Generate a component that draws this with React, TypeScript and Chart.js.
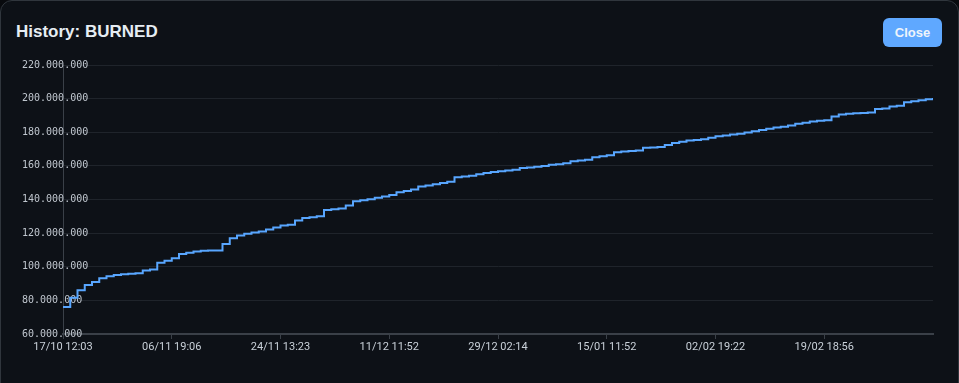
import React, { useEffect, useRef } from "react";
import { Chart, registerables } from "chart.js";

Chart.register(...registerables);

// Burned totals (millions) at equally spaced burn events
const burnedMillions: number[] = [
  76.0, 81.5, 86.0, 89.2, 91.0, 93.2, 94.3, 95.1, 95.5, 95.8,
  96.1, 97.8, 98.3, 102.4, 103.6, 105.0, 107.6, 108.3, 109.1, 109.5,
  109.6, 109.6, 113.5, 117.0, 118.6, 119.6, 120.3, 121.0, 122.1, 123.3,
  124.5, 125.0, 127.5, 129.0, 129.5, 130.0, 133.8, 134.2, 134.6, 136.5,
  138.9, 139.5, 140.1, 141.0, 141.8, 142.7, 144.3, 145.0, 145.9, 147.7,
  148.3, 149.0, 149.8, 150.5, 153.2, 153.7, 154.2, 155.0, 155.7, 156.3,
  156.8, 157.3, 157.7, 158.8, 159.1, 159.5, 159.9, 160.6, 161.0, 161.6,
  162.7, 163.2, 163.7, 165.2, 165.7, 166.3, 168.1, 168.5, 168.9, 169.2,
  170.8, 171.0, 171.3, 172.4, 173.6, 174.3, 175.1, 175.4, 175.8, 176.8,
  177.6, 178.1, 178.6, 179.1, 179.8, 180.6, 181.4, 182.1, 182.8, 183.3,
  184.0, 185.0, 185.6, 186.4, 186.8, 187.2, 189.4, 190.6, 191.0, 191.3,
  191.5, 191.8, 193.8, 194.2, 195.3, 195.8, 197.8, 198.4, 199.0, 199.7,
  200.4,
];

// Shown x-axis labels (one every 15 events)
const xTickLabels: string[] = [
  "17/10 12:03",
  "06/11 19:06",
  "24/11 13:23",
  "11/12 11:52",
  "29/12 02:14",
  "15/01 11:52",
  "02/02 19:22",
  "19/02 18:56",
];
const xTickEvery = 15;

const yMin = 60000000;
const yMax = 220000000;
const yStep = 20000000;

function formatDots(v: number): string {
  return Math.round(v)
    .toString()
    .replace(/\B(?=(\d{3})+(?!\d))/g, ".");
}

export default function App() {
  const canvasRef = useRef<HTMLCanvasElement | null>(null);

  useEffect(() => {
    document.body.style.margin = "0";
    document.body.style.background = "#080a0e";
    const canvas = canvasRef.current;
    if (!canvas) return;
    const data = burnedMillions.map((v, i) => ({ x: i, y: v * 1000000 }));
    const chart = new Chart(canvas, {
      type: "line",
      data: {
        datasets: [
          {
            label: "BURNED",
            data,
            borderColor: "#58a6ff",
            backgroundColor: "#58a6ff",
            borderWidth: 2,
            pointRadius: 0,
            pointHoverRadius: 0,
            stepped: true,
            tension: 0,
            fill: false,
          },
        ],
      },
      options: {
        animation: false,
        responsive: true,
        maintainAspectRatio: false,
        layout: { padding: { left: 5, right: 10, top: 10, bottom: 0 } },
        plugins: {
          legend: { display: false },
          tooltip: { enabled: false },
        },
        scales: {
          x: {
            type: "linear",
            min: 0,
            max: burnedMillions.length - 1,
            afterFit: (scale: any) => {
              scale.height = 26;
            },
            grid: {
              display: true,
              drawOnChartArea: false,
              drawTicks: true,
              tickLength: 5,
              color: "#3a4048",
            },
            border: { display: true, color: "#3a4048", width: 2 },
            ticks: {
              stepSize: xTickEvery,
              autoSkip: false,
              maxRotation: 0,
              padding: 2,
              color: "#c9d1d9",
              font: { family: "Roboto, 'Liberation Sans', sans-serif", size: 11 },
              callback: (value: any) => {
                const idx = Number(value) / xTickEvery;
                if (!Number.isInteger(idx)) return null;
                return xTickLabels[idx] ?? null;
              },
            },
          },
          y: {
            type: "linear",
            min: yMin,
            max: yMax,
            afterFit: (scale: any) => {
              scale.width = 42;
            },
            grid: {
              color: "#1f242b",
              drawTicks: false,
              lineWidth: 1,
            },
            border: { display: true, color: "#3a4048", width: 1 },
            ticks: {
              stepSize: yStep,
              mirror: true,
              crossAlign: "near",
              padding: -41,
              color: "#c0c7cf",
              font: { family: "'DejaVu Sans Mono', monospace", size: 10 },
              callback: (value: any) => formatDots(Number(value)),
            },
          },
        },
      },
    });
    return () => {
      chart.destroy();
    };
  }, []);

  return (
    <div
      style={{
        position: "fixed",
        left: 0,
        top: 0,
        width: 959,
        height: 383,
        overflow: "hidden",
        background: "#080a0e",
      }}
    >
      <div
        style={{
          position: "absolute",
          left: 0,
          top: 0,
          width: 959,
          height: 420,
          boxSizing: "border-box",
          border: "1px solid #30363d",
          borderRadius: 12,
          background: "#0d1117",
        }}
      >
        <div
          style={{
            position: "absolute",
            left: 15,
            top: 20,
            fontFamily: "'Liberation Sans', Arial, sans-serif",
            fontWeight: 700,
            fontSize: 17,
            lineHeight: "22px",
            color: "#e6edf3",
          }}
        >
          History: BURNED
        </div>
        <div
          style={{
            position: "absolute",
            left: 882,
            top: 17,
            width: 59,
            height: 29,
            borderRadius: 6,
            background: "#5fa8ff",
            color: "#eef4fb",
            fontFamily: "'Liberation Sans', Arial, sans-serif",
            fontWeight: 700,
            fontSize: 13,
            lineHeight: "29px",
            textAlign: "center",
          }}
        >
          Close
        </div>
        <div
          style={{
            position: "absolute",
            left: 15,
            top: 54,
            width: 927,
            height: 305,
          }}
        >
          <canvas ref={canvasRef} />
        </div>
      </div>
    </div>
  );
}
